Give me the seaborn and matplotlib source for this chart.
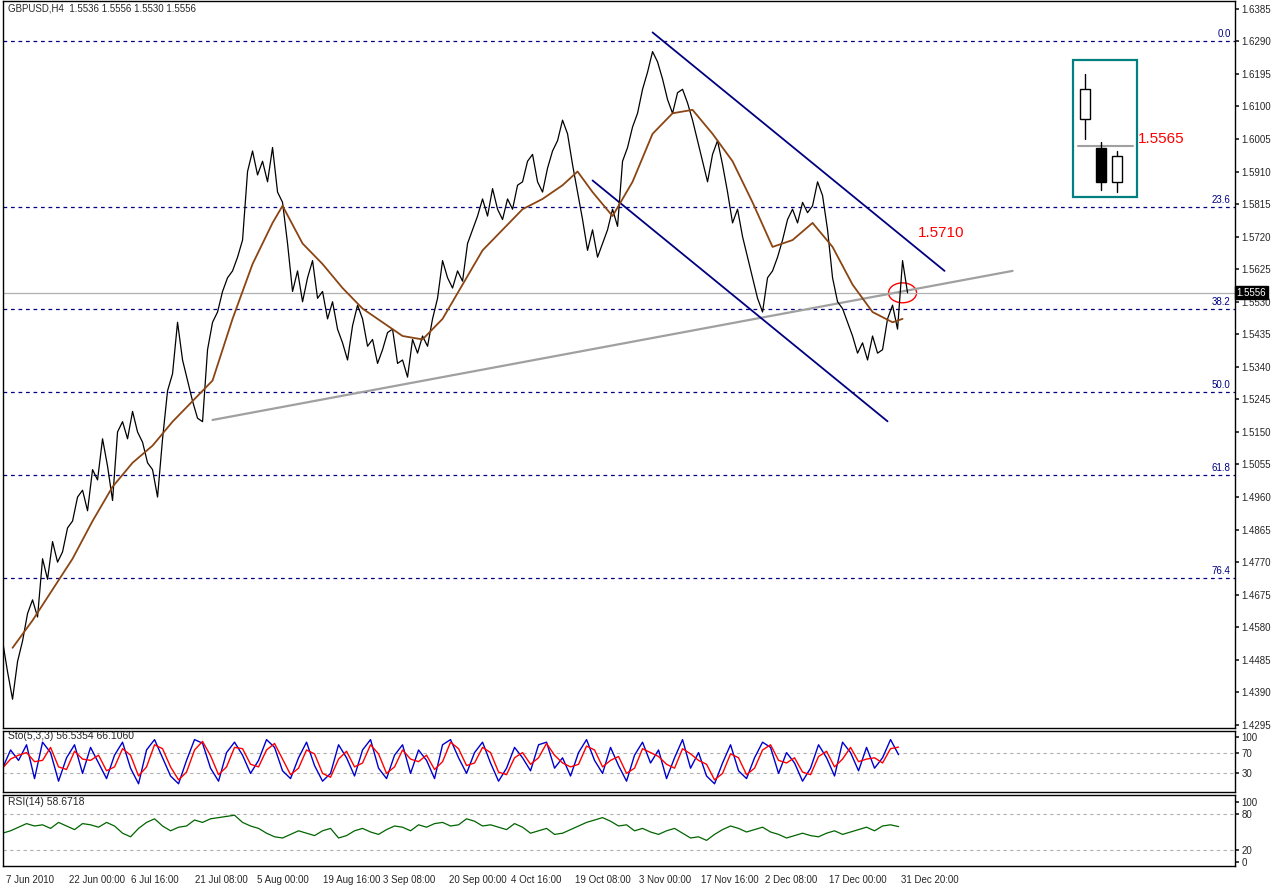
"""GBPUSD H4 chart with Fibonacci levels, channel and oscillators (MT4 style)."""

import matplotlib.pyplot as plt
import numpy as np
import pandas as pd
import seaborn as sns
from matplotlib.patches import Ellipse, Rectangle

# close prices, one value every 5 bars
PRICE_STEP = 5
PRICES = [
    1.4540, 1.4450, 1.4370, 1.4480, 1.4540, 1.4620, 1.4660, 1.4610, 1.4780, 1.4720,
    1.4830, 1.4770, 1.4800, 1.4870, 1.4890, 1.4960, 1.4980, 1.4920, 1.5040, 1.5010,
    1.5130, 1.5050, 1.4950, 1.5150, 1.5180, 1.5130, 1.5210, 1.5150, 1.5120, 1.5060,
    1.5040, 1.4960, 1.5130, 1.5270, 1.5320, 1.5470, 1.5360, 1.5300, 1.5240, 1.5190,
    1.5180, 1.5390, 1.5470, 1.5500, 1.5560, 1.5600, 1.5620, 1.5660, 1.5710, 1.5910,
    1.5970, 1.5900, 1.5940, 1.5880, 1.5980, 1.5850, 1.5820, 1.5700, 1.5560, 1.5620,
    1.5530, 1.5600, 1.5650, 1.5540, 1.5560, 1.5480, 1.5530, 1.5450, 1.5410, 1.5360,
    1.5460, 1.5520, 1.5480, 1.5400, 1.5420, 1.5350, 1.5390, 1.5440, 1.5450, 1.5350,
    1.5360, 1.5310, 1.5420, 1.5380, 1.5430, 1.5400, 1.5480, 1.5540, 1.5650, 1.5600,
    1.5570, 1.5620, 1.5590, 1.5700, 1.5740, 1.5780, 1.5830, 1.5780, 1.5860, 1.5800,
    1.5770, 1.5830, 1.5800, 1.5870, 1.5880, 1.5940, 1.5960, 1.5880, 1.5850, 1.5920,
    1.5970, 1.6000, 1.6060, 1.6020, 1.5930, 1.5850, 1.5770, 1.5680, 1.5740, 1.5660,
    1.5700, 1.5740, 1.5800, 1.5750, 1.5940, 1.5980, 1.6040, 1.6080, 1.6150, 1.6200,
    1.6260, 1.6230, 1.6180, 1.6120, 1.6080, 1.6140, 1.6150, 1.6110, 1.6060, 1.6000,
    1.5940, 1.5880, 1.5960, 1.6000, 1.5930, 1.5850, 1.5760, 1.5800, 1.5720, 1.5660,
    1.5600, 1.5540, 1.5500, 1.5600, 1.5620, 1.5660, 1.5710, 1.5770, 1.5800, 1.5760,
    1.5820, 1.5790, 1.5810, 1.5880, 1.5840, 1.5740, 1.5600, 1.5530, 1.5510, 1.5470,
    1.5430, 1.5380, 1.5410, 1.5360, 1.5430, 1.5380, 1.5390, 1.5480, 1.5520, 1.5450,
    1.5650, 1.5556,
]

MA_BARS = [10, 30, 50, 70, 90, 110, 130, 150, 170, 190, 210, 230, 250, 270, 280,
           300, 320, 340, 360, 380, 400, 420, 440, 460, 480, 500, 520, 540, 560,
           575, 590, 610, 630, 650, 670, 690, 710, 730, 750, 770, 790, 810, 830,
           850, 870, 890, 900]
MA_VALUES = [1.4520, 1.4600, 1.4690, 1.4780, 1.4890, 1.4990, 1.5060, 1.5110, 1.5180,
             1.5240, 1.5300, 1.5480, 1.5640, 1.5760, 1.5810, 1.5700, 1.5640, 1.5570,
             1.5510, 1.5470, 1.5430, 1.5420, 1.5480, 1.5580, 1.5680, 1.5740, 1.5800,
             1.5830, 1.5870, 1.5910, 1.5850, 1.5780, 1.5880, 1.6020, 1.6080, 1.6090,
             1.6020, 1.5940, 1.5820, 1.5690, 1.5710, 1.5760, 1.5690, 1.5580, 1.5500,
             1.5470, 1.5480]

FIB_LABELS = ["0.0", "23.6", "38.2", "50.0", "61.8", "76.4"]
FIB_LEVELS = [1.6290, 1.5807, 1.5508, 1.5266, 1.5024, 1.4725]
LAST_PRICE = 1.5556

TREND_BARS = [210, 1010]
TREND_PRICES = [1.5185, 1.5620]
UPPER_CH_BARS = [650, 942]
UPPER_CH_PRICES = [1.6316, 1.5620]
LOWER_CH_BARS = [590, 885]
LOWER_CH_PRICES = [1.5884, 1.5181]

# oscillators, one value every 8 bars
OSC_STEP = 8
STOCH = [
    40, 75, 55, 85, 20, 90, 70, 15, 60, 85, 30, 80, 50, 20, 65, 90, 40, 10, 75, 95,
    60, 25, 10, 55, 95, 88, 40, 15, 70, 90, 65, 30, 55, 95, 80, 35, 20, 60, 90, 45,
    15, 30, 85, 60, 25, 75, 95, 40, 20, 65, 85, 30, 75, 55, 20, 85, 95, 60, 30, 70,
    90, 50, 15, 40, 80, 60, 35, 85, 90, 40, 60, 25, 70, 95, 55, 30, 80, 45, 15, 65,
    90, 50, 75, 20, 60, 95, 40, 70, 25, 10, 50, 85, 35, 20, 60, 90, 80, 30, 70, 50,
    15, 40, 85, 60, 25, 90, 70, 35, 80, 40, 60, 95, 66,
]
RSI = [
    48, 52, 58, 64, 60, 62, 56, 66, 60, 54, 64, 62, 58, 66, 60, 48, 42, 56, 66, 72,
    60, 52, 58, 60, 70, 66, 72, 74, 76, 78, 66, 60, 56, 48, 42, 40, 46, 52, 48, 44,
    52, 56, 40, 44, 52, 56, 50, 46, 54, 60, 58, 52, 62, 58, 64, 66, 60, 62, 72, 68,
    60, 62, 58, 54, 64, 58, 48, 52, 56, 46, 48, 54, 60, 66, 70, 74, 68, 60, 62, 52,
    56, 50, 46, 52, 56, 48, 40, 42, 36, 46, 54, 60, 56, 50, 54, 58, 50, 46, 40, 44,
    48, 44, 42, 48, 52, 46, 50, 54, 58, 52, 60, 62, 59,
]

DATE_BARS = [3, 66, 128, 192, 254, 320, 380, 446, 508, 572, 636, 698, 762, 826, 898]
DATE_LABELS = ["7 Jun 2010", "22 Jun 00:00", "6 Jul 16:00", "21 Jul 08:00",
               "5 Aug 00:00", "19 Aug 16:00", "3 Sep 08:00", "20 Sep 00:00",
               "4 Oct 16:00", "19 Oct 08:00", "3 Nov 00:00", "17 Nov 16:00",
               "2 Dec 08:00", "17 Dec 00:00", "31 Dec 20:00"]
PRICE_TICKS = [1.6385, 1.6290, 1.6195, 1.6100, 1.6005, 1.5910, 1.5815, 1.5720,
               1.5625, 1.5530, 1.5435, 1.5340, 1.5245, 1.5150, 1.5055, 1.4960,
               1.4865, 1.4770, 1.4675, 1.4580, 1.4485, 1.4390, 1.4295]

NAVY = "#000080"
X_MAX = 1232


def style_axis(ax):
    ax.set_xlim(0, X_MAX)
    ax.yaxis.tick_right()
    ax.tick_params(axis="y", labelsize=7, length=3, pad=2)
    ax.tick_params(axis="x", length=0, labelbottom=False)
    for s in ax.spines.values():
        s.set_color("black")
        s.set_linewidth(1)
    ax.set_xlabel("")
    ax.set_ylabel("")


def main():
    sns.set_theme(style="white")
    plt.rcParams["font.family"] = ["Liberation Sans", "DejaVu Sans"]
    fig = plt.figure(figsize=(12.74, 8.85), dpi=100)
    right = X_MAX / 1274
    ax = fig.add_axes([0.002, 1 - 728 / 885, right, 728 / 885 - 0.001])
    ax_st = fig.add_axes([0.002, 1 - 792 / 885, right, 61 / 885])
    ax_rsi = fig.add_axes([0.002, 1 - 866 / 885, right, 71 / 885])

    price_df = pd.DataFrame({"bar": np.arange(len(PRICES)) * PRICE_STEP, "price": PRICES})
    ma_df = pd.DataFrame({"bar": MA_BARS, "price": MA_VALUES})

    for lvl, lab in zip(FIB_LEVELS, FIB_LABELS):
        ax.axhline(lvl, color=NAVY, lw=0.9, ls=(0, (3, 3)))
        ax.text(X_MAX - 4, lvl + 0.0006, lab, color=NAVY, fontsize=7, ha="right", va="bottom")
    ax.axhline(LAST_PRICE, color="#b0b0b0", lw=0.9)
    ax.plot(TREND_BARS, TREND_PRICES, color="#a0a0a0", lw=1.6)
    ax.plot(UPPER_CH_BARS, UPPER_CH_PRICES, color=NAVY, lw=1.3)
    ax.plot(LOWER_CH_BARS, LOWER_CH_PRICES, color=NAVY, lw=1.3)

    sns.lineplot(data=price_df, x="bar", y="price", ax=ax, color="black", lw=0.9)
    sns.lineplot(data=ma_df, x="bar", y="price", ax=ax, color="#8b4513", lw=1.3)

    ax.text(915, 1.5710, "1.5710", color="red", fontsize=11, va="bottom")
    ax.add_patch(Ellipse((900, LAST_PRICE), 28, 0.0058, fill=False, ec="red", lw=1))

    # inset candle box
    ax.add_patch(Rectangle((1070, 1.5835), 64, 0.0400, fill=False, ec="#008080", lw=1.6))
    ax.plot([1075, 1130], [1.5985, 1.5985], color="#a0a0a0", lw=1.5)
    candles = [(1082, 1.6196, 1.6150, 1.6062, 1.6005), (1098, 1.5996, 1.5980, 1.5878, 1.5855),
               (1114, 1.5970, 1.5955, 1.5878, 1.5850)]
    for i, (cx, hi, o_top, o_bot, lo) in enumerate(candles):
        ax.plot([cx, cx], [lo, hi], color="black", lw=1)
        face = "black" if i == 1 else "white"
        ax.add_patch(Rectangle((cx - 5, o_bot), 10, o_top - o_bot, fc=face, ec="black", lw=1, zorder=3))
    ax.text(1135, 1.6005, "1.5565", color="red", fontsize=11, va="center")

    ax.text(5, 1.6385, "GBPUSD,H4  1.5536 1.5556 1.5530 1.5556", fontsize=7, va="center")
    ax.set_ylim(1.4286, 1.6408)
    ax.set_yticks(PRICE_TICKS)
    ax.set_yticklabels([f"{t:.4f}" for t in PRICE_TICKS])
    style_axis(ax)
    ax.text(X_MAX + 2, LAST_PRICE, "1.5556", fontsize=7, color="white", va="center",
            bbox=dict(fc="black", ec="black", pad=1), clip_on=False)

    osc_x = np.arange(len(STOCH)) * OSC_STEP
    stoch = pd.Series(STOCH, dtype=float)
    signal = stoch.rolling(2, min_periods=1).mean()
    st_df = pd.DataFrame({"bar": osc_x, "main": stoch, "signal": signal})
    for lvl in (70, 30):
        ax_st.axhline(lvl, color="#b0b0b0", lw=0.8, ls=(0, (3, 3)))
    sns.lineplot(data=st_df, x="bar", y="main", ax=ax_st, color="#0000cc", lw=1)
    sns.lineplot(data=st_df, x="bar", y="signal", ax=ax_st, color="red", lw=1)
    ax_st.set_ylim(-5.8, 111.5)
    ax_st.set_yticks([100, 70, 30])
    ax_st.text(5, 102, "Sto(5,3,3) 56.5354 66.1060", fontsize=7.5, va="center")
    style_axis(ax_st)

    rsi_df = pd.DataFrame({"bar": osc_x, "rsi": RSI})
    for lvl in (80, 20):
        ax_rsi.axhline(lvl, color="#b0b0b0", lw=0.8, ls=(0, (3, 3)))
    sns.lineplot(data=rsi_df, x="bar", y="rsi", ax=ax_rsi, color="#006400", lw=0.9)
    ax_rsi.set_ylim(-6.7, 111.7)
    ax_rsi.set_yticks([100, 80, 20, 0])
    ax_rsi.text(5, 100, "RSI(14) 58.6718", fontsize=7.5, va="center")
    style_axis(ax_rsi)
    ax_rsi.set_xticks(DATE_BARS)
    ax_rsi.set_xticklabels(DATE_LABELS)
    ax_rsi.tick_params(axis="x", labelbottom=True, labelsize=7, length=3, direction="out")
    for lab in ax_rsi.get_xticklabels():
        lab.set_horizontalalignment("left")

    fig.savefig("out.png", dpi=100, facecolor="white")
    plt.close(fig)


if __name__ == "__main__":
    main()
